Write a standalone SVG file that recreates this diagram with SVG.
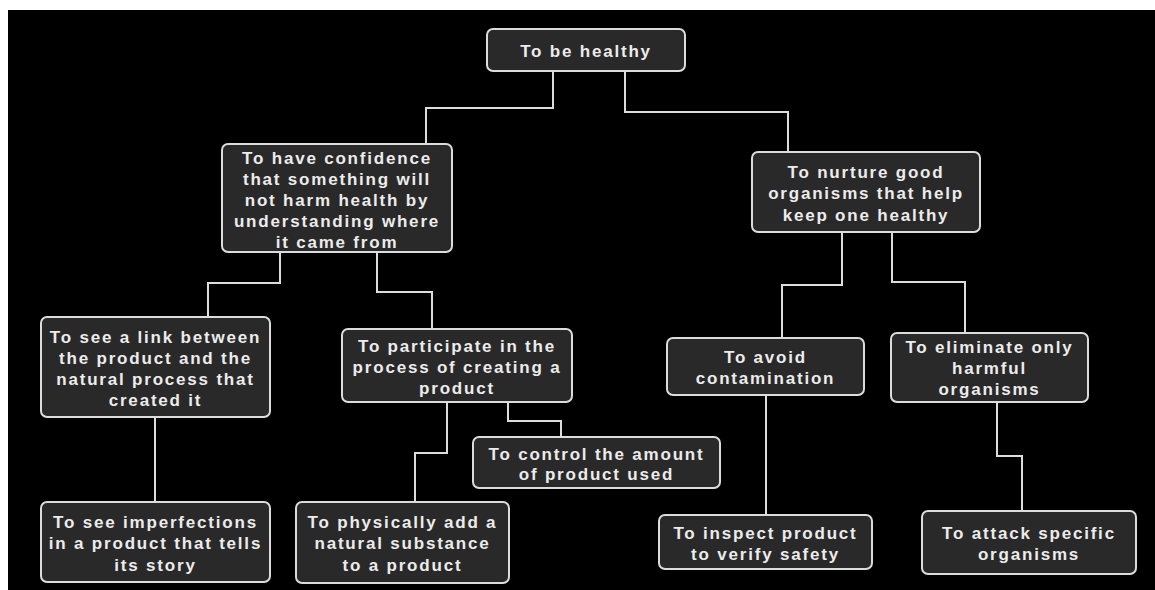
<svg xmlns="http://www.w3.org/2000/svg" width="1155" height="590" viewBox="0 0 1155 590">
<style>
.box{fill:#292929;stroke:#dcdcdc;stroke-width:2}
.t{font-family:"Liberation Sans",Arial,sans-serif;font-weight:bold;font-size:17px;letter-spacing:1.8px;fill:#ececec;text-anchor:middle}
.c{fill:none;stroke:#dcdcdc;stroke-width:2}
</style>
<rect x="0" y="0" width="1155" height="590" fill="#ffffff"/>
<rect x="8" y="10" width="1147" height="580" fill="#000000"/>
<g id="connectors">
<polyline class="c" points="553,71 553,108 426,108 426,144"/>
<polyline class="c" points="625,71 625,112 788,112 788,152"/>
<polyline class="c" points="280,252 280,283 208,283 208,317"/>
<polyline class="c" points="377,252 377,292 432,292 432,329"/>
<polyline class="c" points="155,417 155,502"/>
<polyline class="c" points="447,402 447,453 415,453 415,502"/>
<polyline class="c" points="508,402 508,421 561,421 561,437"/>
<polyline class="c" points="842,232 842,285 782,285 782,338"/>
<polyline class="c" points="892,232 892,282 965,282 965,333"/>
<polyline class="c" points="766,395 766,515"/>
<polyline class="c" points="997,402 997,456 1022,456 1022,511"/>
</g>
<g id="n0"><rect class="box" x="487" y="29" width="198" height="42" rx="6"/>
<text class="t" x="586" y="57">To be healthy</text></g>
<g id="n1"><rect class="box" x="222" y="144" width="230" height="108" rx="6"/>
<text class="t" x="337" y="164">To have confidence</text>
<text class="t" x="337" y="185">that something will</text>
<text class="t" x="337" y="206">not harm health by</text>
<text class="t" x="337" y="227">understanding where</text>
<text class="t" x="337" y="248">it came from</text></g>
<g id="n2"><rect class="box" x="752" y="152" width="228" height="80" rx="6"/>
<text class="t" x="866" y="178">To nurture good</text>
<text class="t" x="866" y="199">organisms that help</text>
<text class="t" x="866" y="221">keep one healthy</text></g>
<g id="n3"><rect class="box" x="41" y="317" width="229" height="100" rx="6"/>
<text class="t" x="155.5" y="343">To see a link between</text>
<text class="t" x="155.5" y="364">the product and the</text>
<text class="t" x="155.5" y="385">natural process that</text>
<text class="t" x="155.5" y="406">created it</text></g>
<g id="n4"><rect class="box" x="342" y="329" width="230" height="73" rx="6"/>
<text class="t" x="457" y="352">To participate in the</text>
<text class="t" x="457" y="373">process of creating a</text>
<text class="t" x="457" y="394">product</text></g>
<g id="n5"><rect class="box" x="41" y="502" width="229" height="80" rx="6"/>
<text class="t" x="155.5" y="528">To see imperfections</text>
<text class="t" x="155.5" y="549">in a product that tells</text>
<text class="t" x="155.5" y="571">its story</text></g>
<g id="n6"><rect class="box" x="296" y="502" width="213" height="81" rx="6"/>
<text class="t" x="402.5" y="528">To physically add a</text>
<text class="t" x="402.5" y="549">natural substance</text>
<text class="t" x="402.5" y="571">to a product</text></g>
<g id="n7"><rect class="box" x="473" y="437" width="247" height="51" rx="6"/>
<text class="t" x="596.5" y="460">To control the amount</text>
<text class="t" x="596.5" y="480">of product used</text></g>
<g id="n8"><rect class="box" x="667" y="338" width="197" height="57" rx="6"/>
<text class="t" x="765.5" y="363">To avoid</text>
<text class="t" x="765.5" y="384">contamination</text></g>
<g id="n9"><rect class="box" x="891" y="333" width="197" height="69" rx="6"/>
<text class="t" x="989.5" y="353">To eliminate only</text>
<text class="t" x="989.5" y="374">harmful</text>
<text class="t" x="989.5" y="395">organisms</text></g>
<g id="n10"><rect class="box" x="659" y="515" width="213" height="54" rx="6"/>
<text class="t" x="765.5" y="539">To inspect product</text>
<text class="t" x="765.5" y="560">to verify safety</text></g>
<g id="n11"><rect class="box" x="922" y="511" width="214" height="63" rx="6"/>
<text class="t" x="1029" y="539">To attack specific</text>
<text class="t" x="1029" y="560">organisms</text></g>
</svg>
